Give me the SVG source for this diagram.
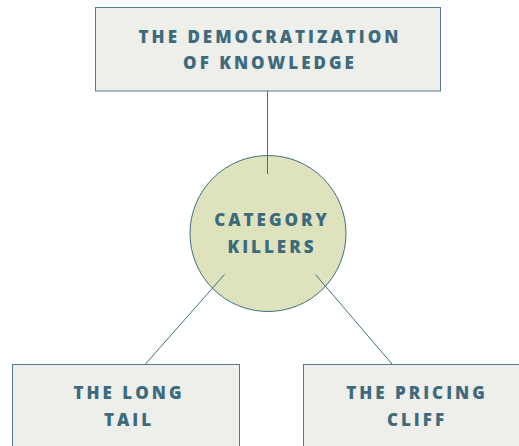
<svg xmlns="http://www.w3.org/2000/svg" width="519" height="446" viewBox="0 0 519 446">
<style>
.box{fill:#eeeeea;stroke:#4f7d8f;stroke-width:1}
.circ{fill:#dfe3bd;stroke:#3f6f82;stroke-width:1}
.conn{stroke:#3f6f82;stroke-width:1;fill:none}
.lbl{font-family:"Open Sans","DejaVu Sans",sans-serif;font-weight:800;font-size:17px;fill:#3d6b7d;letter-spacing:3px;text-anchor:middle}
</style>
<rect width="519" height="446" fill="#ffffff"/>
<g id="node-democratization">
<rect class="box" x="95.5" y="7.5" width="345" height="83.5"/>
<text class="lbl" x="270" y="42.7">THE DEMOCRATIZATION</text>
<text class="lbl" x="270" y="69">OF KNOWLEDGE</text>
</g>
<g id="node-category-killers">
<circle class="circ" cx="268" cy="233.5" r="78"/>
<text class="lbl" x="272" y="226">CATEGORY</text>
<text class="lbl" x="272" y="252.7">KILLERS</text>
</g>
<g id="node-long-tail">
<rect class="box" x="12.5" y="364.5" width="227" height="100"/>
<text class="lbl" x="129" y="399">THE LONG</text>
<text class="lbl" x="129" y="425.7">TAIL</text>
</g>
<g id="node-pricing-cliff">
<rect class="box" x="303.5" y="364.5" width="230" height="100"/>
<text class="lbl" x="417" y="399">THE PRICING</text>
<text class="lbl" x="417" y="425.7">CLIFF</text>
</g>
<g id="connectors">
<line class="conn" x1="267.5" y1="91" x2="267.5" y2="174"/>
<line class="conn" x1="224.5" y1="274.5" x2="145.5" y2="364"/>
<line class="conn" x1="315.5" y1="274.5" x2="392" y2="364"/>
</g>
</svg>
